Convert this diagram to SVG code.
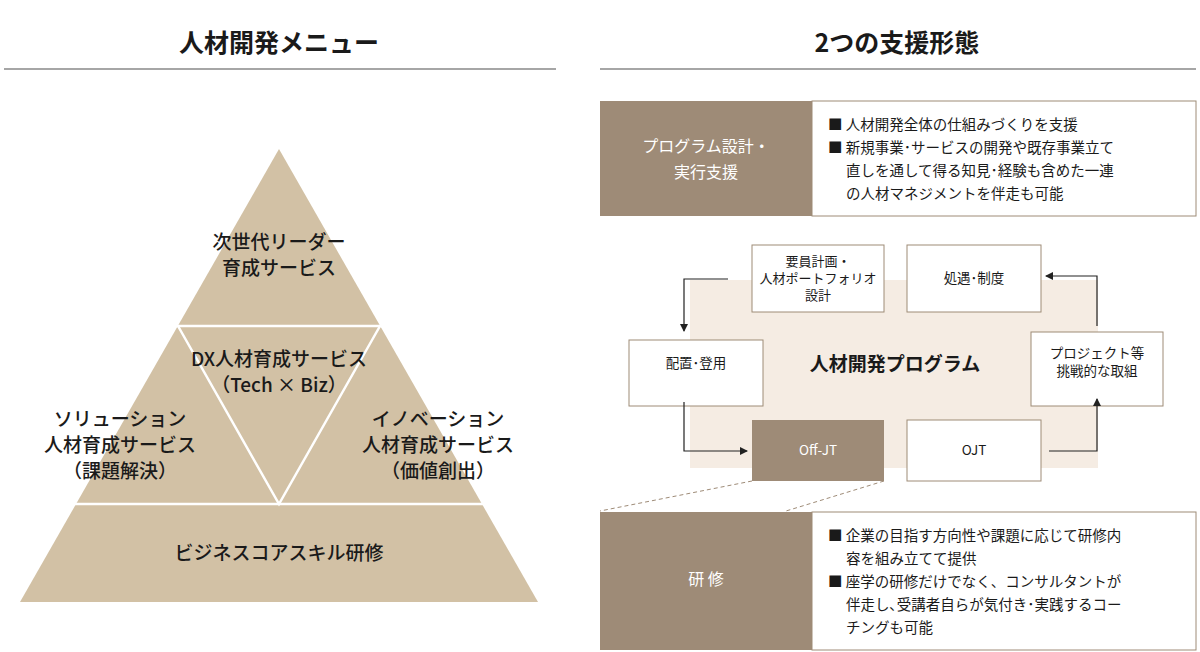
<svg xmlns="http://www.w3.org/2000/svg" width="1200" height="652" viewBox="0 0 1200 652">
<style>
text{font-family:"Noto Sans CJK JP","Noto Sans",sans-serif;fill:#1a1a1a}
.h{font-size:25px;font-weight:bold;text-anchor:middle}
.p{font-size:18px;text-anchor:middle}
.q{font-size:19px;font-weight:500;text-anchor:middle}
.b{font-size:13.5px;text-anchor:middle}
.t{font-size:14.5px}
.w{fill:#fff}
.wb{fill:#fff;stroke:#9e8b77;stroke-width:1}
.dk{fill:#9e8b77}
.c{fill:none;stroke:#222;stroke-width:1.2}
</style>
<defs><marker id="a" markerWidth="8" markerHeight="8" refX="7" refY="4" orient="auto" markerUnits="userSpaceOnUse"><path d="M0,0L8,4L0,8z" fill="#222"/></marker></defs>
<text class="h" x="279" y="52">人材開発メニュー</text>
<text class="h" x="897" y="52">2つの支援形態</text>
<line x1="4" y1="69" x2="556" y2="69" stroke="#888" stroke-width="1.5"/>
<line x1="600" y1="69" x2="1196" y2="69" stroke="#888" stroke-width="1.5"/>
<g id="pyramid">
<polygon points="279,149 538,602 20,602" fill="#d2c1a5"/>
<line x1="170" y1="326" x2="388" y2="326" stroke="#fff" stroke-width="2.5"/>
<line x1="70" y1="504" x2="488" y2="504" stroke="#fff" stroke-width="2.5"/>
<polyline points="178,326 279,504 380,326" fill="none" stroke="#fff" stroke-width="2.5"/>
<text class="q" x="279" y="249">次世代リーダー</text><text class="q" x="279" y="275">育成サービス</text>
<text class="q" x="279" y="366">DX人材育成サービス</text><text class="q" x="279" y="392">（Tech × Biz）</text>
<text class="q" x="120" y="426">ソリューション</text><text class="q" x="120" y="452">人材育成サービス</text><text class="q" x="120" y="478">（課題解決）</text>
<text class="q" x="438" y="426">イノベーション</text><text class="q" x="438" y="452">人材育成サービス</text><text class="q" x="438" y="478">（価値創出）</text>
<text class="q" x="279" y="560">ビジネスコアスキル研修</text>
</g>
<g id="program-design">
<rect x="600" y="101" width="212" height="115" class="dk"/>
<rect x="812" y="101" width="384" height="115" class="wb"/>
<text class="p w" x="706" y="152" style="font-size:16px">プログラム設計・</text>
<text class="p w" x="706" y="178" style="font-size:16px">実行支援</text>
<text class="t" x="828" y="130">■ 人材開発全体の仕組みづくりを支援</text>
<text class="t" x="828" y="153">■ 新規事業･サービスの開発や既存事業立て</text>
<text class="t" x="846" y="176">直しを通して得る知見･経験も含めた一連</text>
<text class="t" x="846" y="199">の人材マネジメントを伴走も可能</text>
</g>
<rect x="690" y="280" width="408" height="188" fill="#f5ece3"/>
<text class="p" x="895" y="371" style="font-weight:bold;font-size:19px">人材開発プログラム</text>
<g id="n1"><rect x="752" y="245" width="132" height="67" class="wb"/><text class="b" x="818" y="266" style="font-size:13px">要員計画・</text><text class="b" x="818" y="283" style="font-size:13px">人材ポートフォリオ</text><text class="b" x="818" y="300" style="font-size:13px">設計</text></g>
<g id="n2"><rect x="907" y="245" width="134" height="67" class="wb"/><text class="b" x="974" y="283">処遇･制度</text></g>
<g id="n3"><rect x="629" y="340" width="134" height="66" class="wb"/><text class="b" x="696" y="368">配置･登用</text></g>
<g id="n4"><rect x="1031" y="332" width="132" height="74" class="wb"/><text class="b" x="1097" y="358">プロジェクト等</text><text class="b" x="1097" y="376">挑戦的な取組</text></g>
<g id="n5"><rect x="752" y="420" width="132" height="61" class="dk"/><text class="b w" x="818" y="455">Off-JT</text></g>
<g id="n6"><rect x="907" y="420" width="134" height="61" class="wb"/><text class="b" x="974" y="455">OJT</text></g>
<g id="connectors">
<polyline class="c" points="728,279 684,279 684,331" marker-end="url(#a)"/>
<polyline class="c" points="684,402 684,451 747,451" marker-end="url(#a)"/>
<polyline class="c" points="1049,451 1097,451 1097,399" marker-end="url(#a)"/>
<polyline class="c" points="1097,326 1097,276 1046,276" marker-end="url(#a)"/>
<line x1="752" y1="481" x2="600" y2="511" stroke="#9e8b77" stroke-dasharray="4,3"/>
<line x1="884" y1="481" x2="786" y2="511" stroke="#9e8b77" stroke-dasharray="4,3"/>
</g>
<g id="training">
<rect x="600" y="512" width="212" height="138" class="dk"/>
<rect x="812" y="512" width="384" height="138" class="wb"/>
<text class="p w" x="706" y="585" style="font-size:16px">研 修</text>
<text class="t" x="828" y="541">■ 企業の目指す方向性や課題に応じて研修内</text>
<text class="t" x="846" y="564">容を組み立てて提供</text>
<text class="t" x="828" y="587">■ 座学の研修だけでなく、コンサルタントが</text>
<text class="t" x="846" y="610">伴走し､受講者自らが気付き･実践するコー</text>
<text class="t" x="846" y="633">チングも可能</text>
</g>
</svg>
